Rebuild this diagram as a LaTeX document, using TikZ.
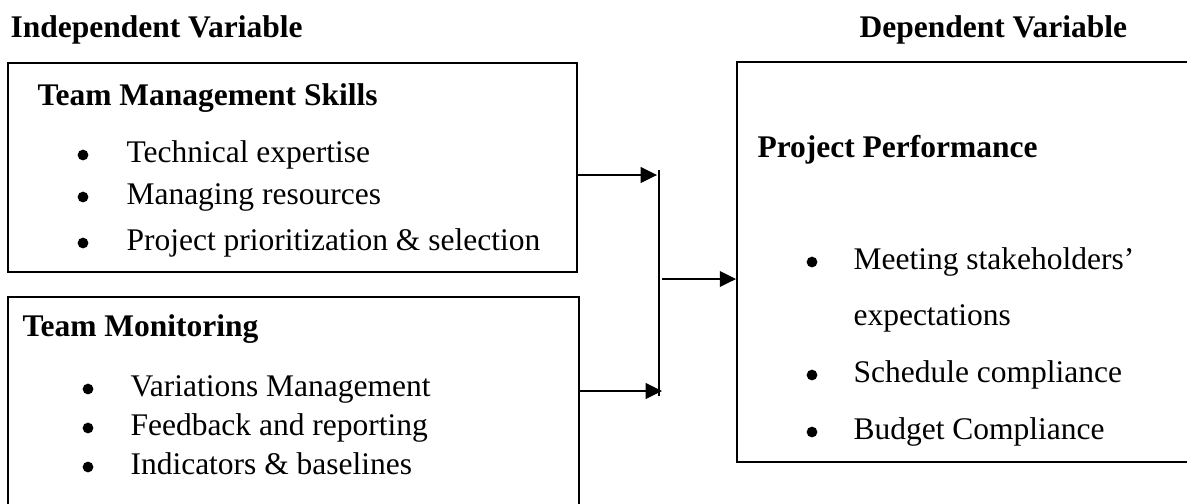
\documentclass[tikz,border=0pt]{standalone}
\usepackage{fontspec}
\setmainfont{Liberation Serif}
\usetikzlibrary{arrows.meta,fit}
\begin{document}
\begin{tikzpicture}[x=0.381pt,y=-0.381pt,
  box/.style={draw, line width=0.75pt, inner sep=0pt},
  lbl/.style={anchor=base west, inner sep=0pt, font=\fontsize{12}{14}\selectfont},
  hd/.style={anchor=base west, inner sep=0pt, font=\fontsize{12}{14}\selectfont\bfseries},
  dot/.style={circle, fill, inner sep=0pt, minimum size=4.1pt},
  arr/.style={line width=0.5pt, -{Triangle[length=6.2pt,width=6pt]}},
  ln/.style={line width=0.5pt}]
\useasboundingbox (0,0) rectangle (1187,503);
\clip (0,0) rectangle (1187,503);
% headings
\node[hd] (iv) at (10,37) {Independent Variable};
\node[hd] (dv) at (859,37) {Dependent Variable};
% box 1
\node[box, fit={(8,63) (577,272)}] (b1) {};
\node[hd] (t1) at (37,105) {Team Management Skills};
\node[dot] (d11) at (83,155) {};
\node[lbl] (i11) at (126,162) {Technical expertise};
\node[dot] (d12) at (83,197) {};
\node[lbl] (i12) at (126,204) {Managing resources};
\node[dot] (d13) at (83,243) {};
\node[lbl] (i13) at (126,250) {Project prioritization \& selection};
% box 2
\node[box, fit={(8,297) (579,530)}] (b2) {};
\node[hd] (t2) at (22,336) {Team Monitoring};
\node[dot] (d21) at (88,389) {};
\node[lbl] (i21) at (130,396) {Variations Management};
\node[dot] (d22) at (88,428) {};
\node[lbl] (i22) at (130,435) {Feedback and reporting};
\node[dot] (d23) at (88,467) {};
\node[lbl] (i23) at (130,474) {Indicators \& baselines};
% box 3
\node[box, fit={(737,62) (1200,462)}] (b3) {};
\node[hd] (t3) at (757,157) {Project Performance};
\node[dot] (d31) at (812,262) {};
\node[lbl] (i31) at (853,269) {Meeting stakeholders’};
\node[lbl] (i31b) at (853,325) {expectations};
\node[dot] (d32) at (812,375) {};
\node[lbl] (i32) at (853,382) {Schedule compliance};
\node[dot] (d33) at (812,432) {};
\node[lbl] (i33) at (853,439) {Budget Compliance};
% connectors
\coordinate (a1) at (657,175);
\coordinate (a2) at (662,391);
\coordinate (vt) at (659,170);
\coordinate (vb) at (659,396);
\coordinate (m0) at (662,279);
\draw[arr] (b1.east |- a1) -- (a1);
\draw[arr] (b2.east |- a2) -- (a2);
\draw[ln] (vt) -- (vb);
\draw[arr] (m0) -- (b3.west |- m0);
\end{tikzpicture}
\end{document}
